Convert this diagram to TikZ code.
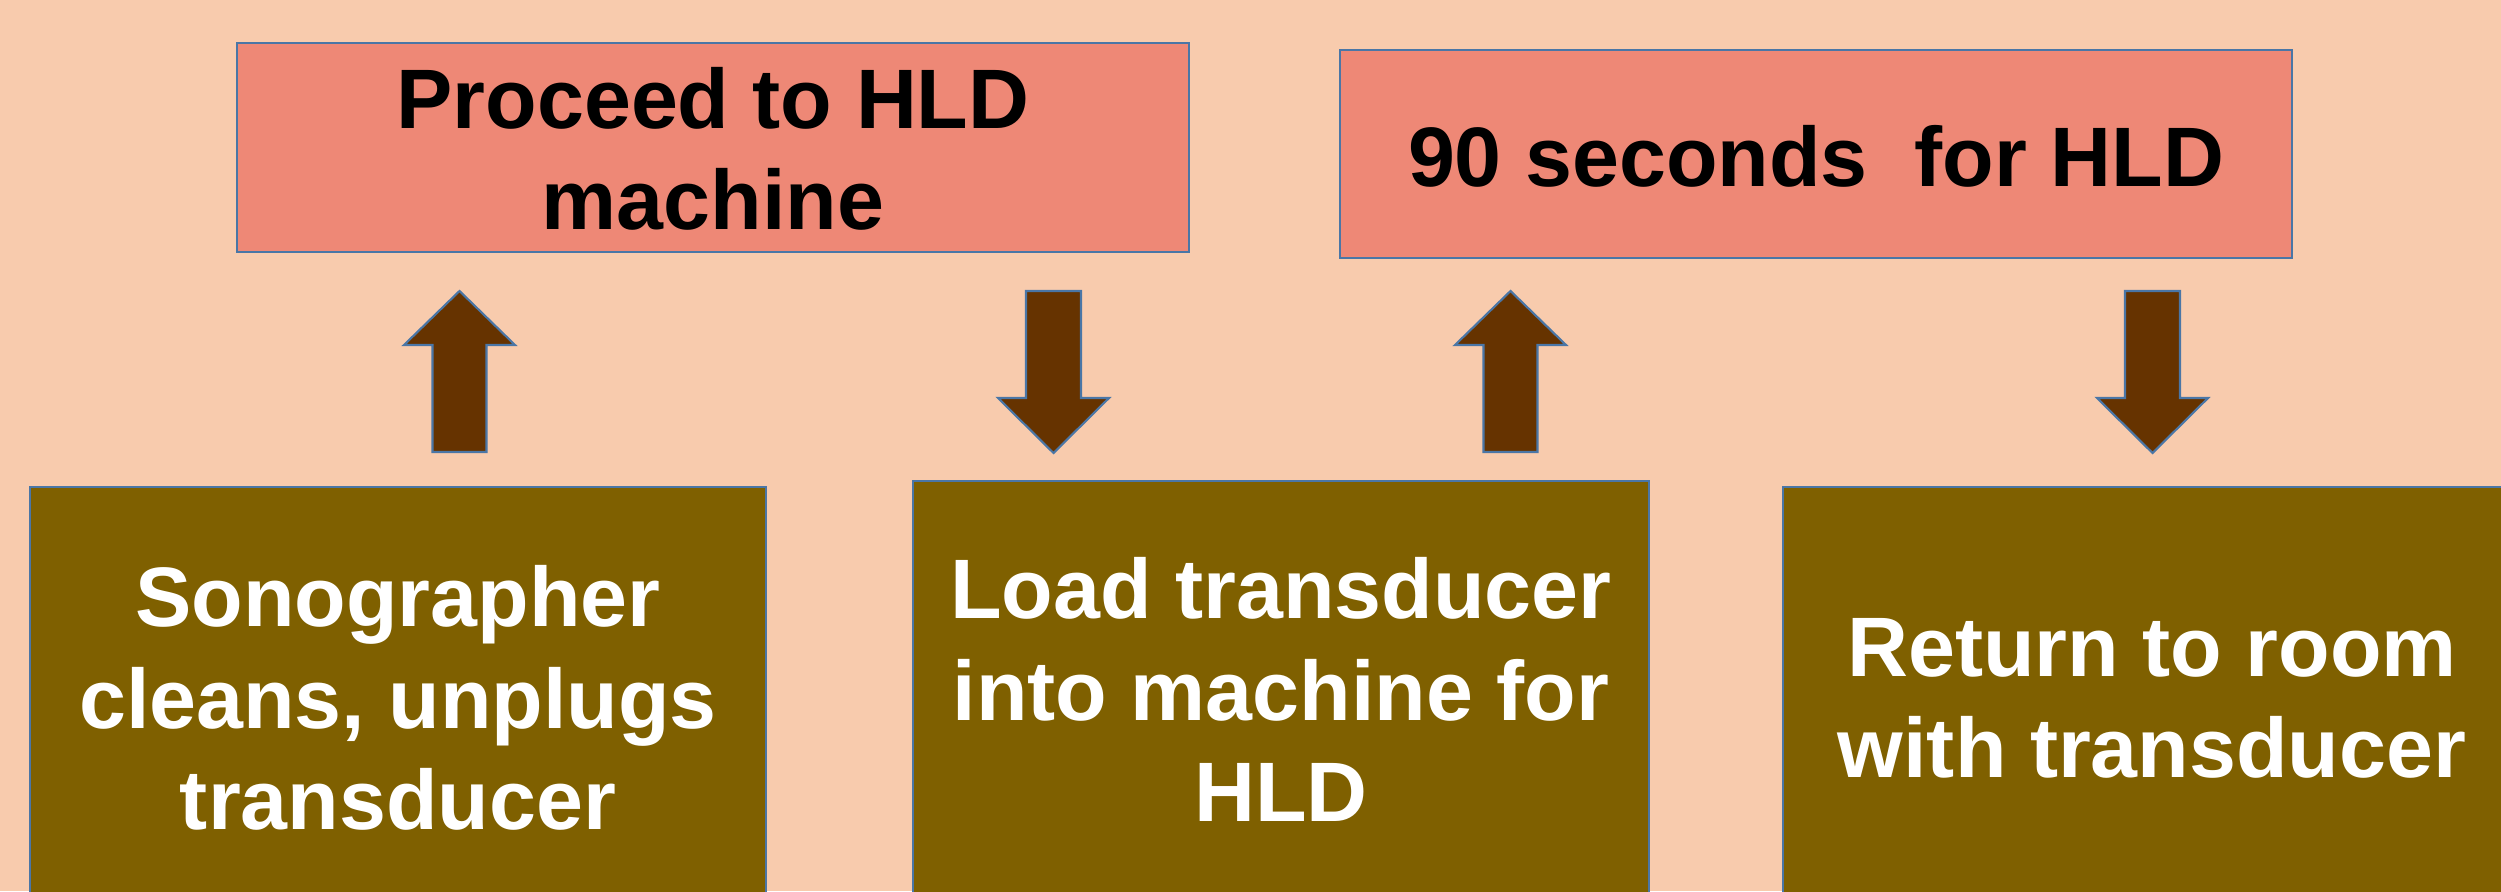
\documentclass[tikz,border=0pt]{standalone}
\usepackage{fontspec}
\setmainfont{Liberation Sans}
\definecolor{bg}{HTML}{F8CBAD}
\definecolor{topc}{HTML}{EE8876}
\definecolor{botc}{HTML}{7F6000}
\definecolor{arrc}{HTML}{663300}
\definecolor{bordc}{HTML}{4A76A6}
\begin{document}
\begin{tikzpicture}[x=0.01cm,y=-0.01cm,
  box/.style={draw=bordc, line width=0.6pt, rectangle, inner sep=0pt},
  topbox/.style={box, fill=topc},
  botbox/.style={box, fill=botc, text=white, font=\fontsize{24}{29}\bfseries\selectfont, align=center},
  lbl/.style={inner sep=0pt, font=\fontsize{24}{29}\bfseries\selectfont, align=center},
  arrst/.style={fill=arrc, draw=bordc, line width=0.6pt, line join=miter},
  uparr/.pic={\draw[arrst] (-27,161)--(-27,54)--(-55.5,54)--(0,0)--(55.5,54)--(27,54)--(27,161)--cycle;},
  downarr/.pic={\draw[arrst] (-27.5,0)--(-27.5,107)--(-55.5,107)--(0,162)--(55.5,107)--(27.5,107)--(27.5,0)--cycle;}
]
\useasboundingbox[fill=bg] (0,0) rectangle (2501,891);
% top boxes
\node[topbox, minimum width=9.51cm, minimum height=2.09cm] (top1) at (713,147.5) {};
\node[lbl] (top1t) at (713,158.6) {\strut Proceed to HLD\\\strut machine};
\node[topbox, minimum width=9.52cm, minimum height=2.08cm] (top2) at (1816,154) {};
\node[lbl] (top2t) at (1816,166.6) {\strut 90 seconds\ \ for HLD};
% bottom boxes
\node[botbox, minimum width=7.36cm, minimum height=4.41cm] (bot1) at (398,707.6)
  {\strut Sonographer\\\strut cleans, unplugs\\\strut transducer};
\node[botbox, minimum width=7.36cm, minimum height=4.37cm] (bot2) at (1281,699.6)
  {\strut Load transducer\\\strut into machine for\\\strut HLD};
\node[botbox, minimum width=7.38cm, minimum height=4.39cm] (bot3) at (2152,706.6)
  {\strut Return to room\\\strut with transducer};
% block arrows
\pic (a1) at (459.5,291) {uparr};
\pic (a2) at (1053.5,291) {downarr};
\pic (a3) at (1510.5,291) {uparr};
\pic (a4) at (2152.5,291) {downarr};
\end{tikzpicture}
\end{document}
